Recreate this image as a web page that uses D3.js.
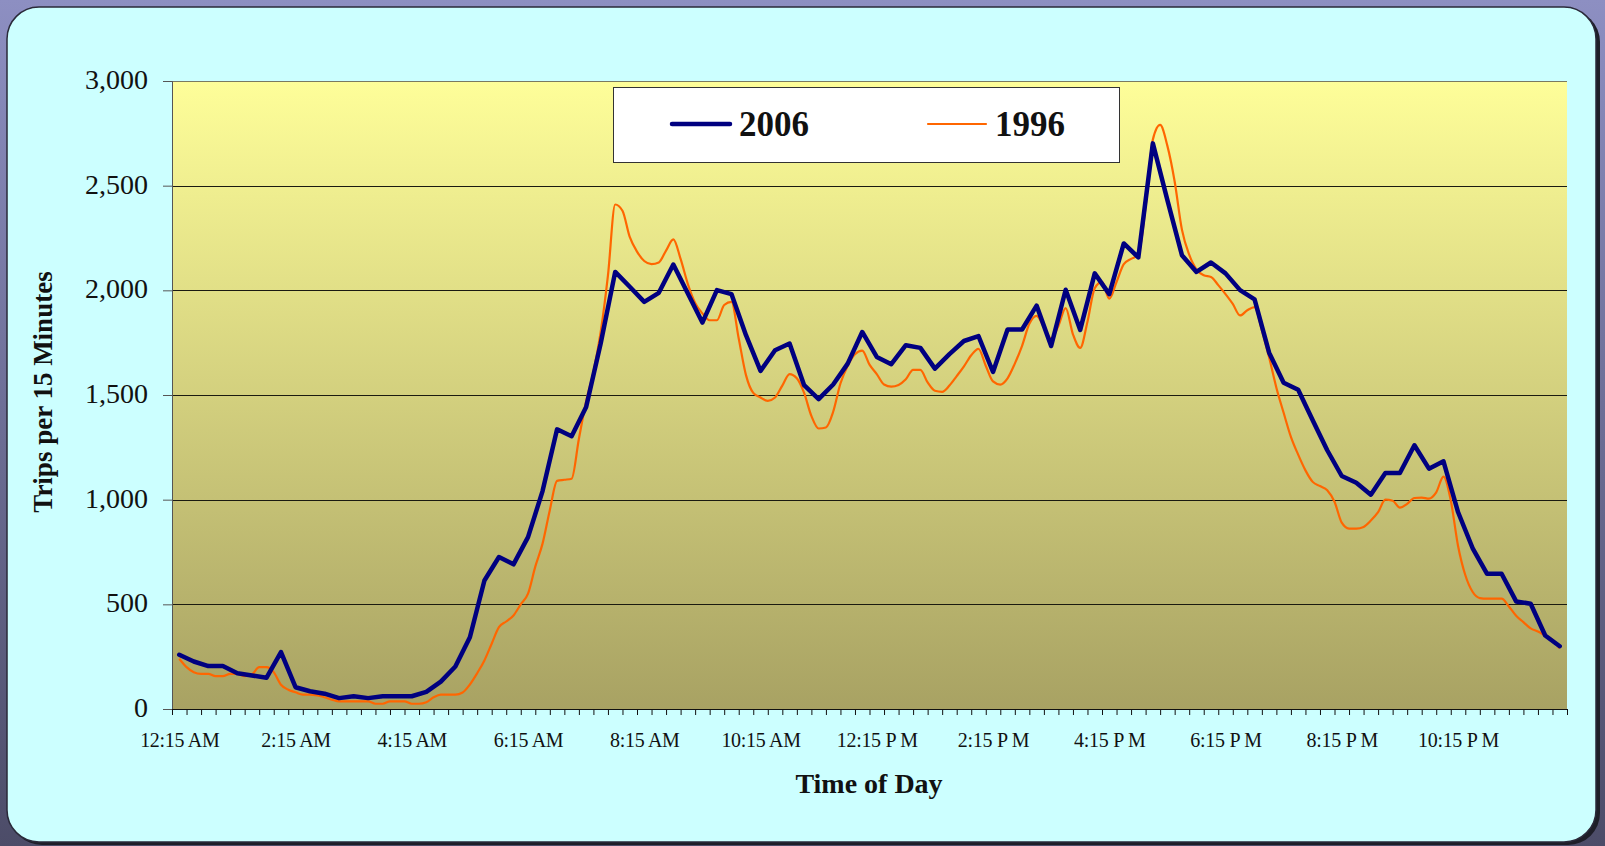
<!DOCTYPE html>
<html>
<head>
<meta charset="utf-8">
<script src="https://cdnjs.cloudflare.com/ajax/libs/d3/7.8.5/d3.min.js"></script>
<style>
    body { margin: 0; background: #8a8cbd; }
    svg { display: block; font-family: "Liberation Serif", "Times New Roman", serif; }
</style>
</head>
<body>
<svg id="chart" width="1605" height="846"></svg>
<script>
/*
    trips by time of day, 2006 vs 1996
 */

// quarter-hour categories, label every 8th one (every 2 hours)
const timeLabels = [
    "12:15 AM", "2:15 AM", "4:15 AM", "6:15 AM", "8:15 AM", "10:15 AM",
    "12:15 P M", "2:15 P M", "4:15 P M", "6:15 P M", "8:15 P M", "10:15 P M"
];

const yTicks = [0, 500, 1000, 1500, 2000, 2500, 3000];

// 2006: one value per 15 minutes (96 values)
const trips2006 = [
    259, 227, 205, 205, 171, 160, 149, 272, 104, 85,
    73, 52, 61, 52, 61, 61, 61, 82, 131, 203,
    343, 614, 726, 691, 821, 1041, 1336, 1303, 1443, 1746,
    2088, 2017, 1945, 1988, 2123, 1985, 1846, 2001, 1982, 1786,
    1615, 1714, 1746, 1547, 1480, 1550, 1650, 1801, 1682, 1647,
    1738, 1725, 1626, 1695, 1758, 1781, 1610, 1813, 1813, 1927,
    1734, 2003, 1811, 2081, 1982, 2224, 2157, 2702, 2431, 2168,
    2088, 2133, 2081, 2001, 1957, 1702, 1559, 1525, 1379, 1236,
    1113, 1081, 1024, 1127, 1127, 1260, 1148, 1183, 941, 769,
    646, 646, 514, 503, 351, 300
];

// 1996: finer series, two readings per quarter-hour category
const trips1996 = [
    240, 200, 176, 168, 168, 157, 157, 168, 168, 157,
    165, 200, 200, 176, 116, 92, 80, 69, 69, 65,
    56, 45, 36, 36, 36, 36, 36, 25, 25, 36,
    36, 36, 25, 25, 32, 56, 69, 69, 69, 79,
    117, 171, 232, 312, 391, 418, 447, 500, 551, 680,
    790, 950, 1090, 1095, 1100, 1290, 1470, 1610, 1800, 2070,
    2410, 2380, 2255, 2185, 2140, 2125, 2133, 2190, 2243, 2150,
    2030, 1940, 1890, 1857, 1857, 1930, 1945, 1770, 1595, 1510,
    1488, 1472, 1488, 1545, 1600, 1580, 1510, 1400, 1340, 1345,
    1420, 1555, 1640, 1695, 1712, 1645, 1600, 1550, 1540, 1548,
    1575, 1620, 1620, 1560, 1520, 1515, 1545, 1590, 1637, 1690,
    1720, 1640, 1565, 1550, 1580, 1650, 1735, 1840, 1878, 1825,
    1770, 1830, 1915, 1790, 1725, 1850, 2010, 2040, 1960, 2040,
    2125, 2150, 2170, 2400, 2720, 2790, 2690, 2520, 2290, 2170,
    2100, 2072, 2064, 2025, 1982, 1935, 1880, 1905, 1920, 1810,
    1680, 1535, 1415, 1300, 1215, 1140, 1085, 1065, 1045, 990,
    890, 862, 862, 870, 900, 940, 1000, 995, 962, 980,
    1008, 1010, 1005, 1035, 1110, 997, 780, 640, 560, 530,
    527, 527, 527, 490, 445, 415, 385, 370, 350, 330,
    290
];

const seriesNames = ["2006", "1996"];

class TripChart {
    constructor(selector) {
        this._svg = d3.select(selector);
        this._plot = { left: 172, right: 1567, top: 81, bottom: 709 };

        this._setupDefs();
        this._drawFrame();
        this._setupScales();
        this._drawPlotArea();
        this._drawAxes();
        this._drawLines();
        this._drawLegend();
        this._drawTitles();
    }

    _setupDefs() {
        const defs = this._svg.append("defs");

        const bg = defs.append("linearGradient").attr("id", "bg").attr("x1", 0).attr("y1", 0).attr("x2", 0).attr("y2", 1);
        bg.append("stop").attr("offset", "0%").attr("stop-color", "#8d8fc2");
        bg.append("stop").attr("offset", "100%").attr("stop-color", "#4c4c68");

        const plotBg = defs.append("linearGradient").attr("id", "plot-bg").attr("x1", 0).attr("y1", 0).attr("x2", 0).attr("y2", 1);
        plotBg.append("stop").attr("offset", "0%").attr("stop-color", "#fefe99");
        plotBg.append("stop").attr("offset", "100%").attr("stop-color", "#a8a263");
    }

    _drawFrame() {
        this._svg.append("rect").attr("width", 1605).attr("height", 846).attr("fill", "url(#bg)");
        this._svg.append("rect")
            .attr("x", 10).attr("y", 10).attr("width", 1590).attr("height", 835)
            .attr("rx", 32).attr("fill", "#1e1e28");
        this._svg.append("rect")
            .attr("x", 7).attr("y", 7).attr("width", 1589).attr("height", 835)
            .attr("rx", 32).attr("fill", "#ccffff")
            .attr("stroke", "#2a2a3a").attr("stroke-width", 1.5);
    }

    _setupScales() {
        const p = this._plot;
        this._x = d3.scaleLinear().domain([-0.5, 95.5]).range([p.left, p.right]);
        this._y = d3.scaleLinear().domain([0, 3000]).range([p.bottom, p.top]);
    }

    _drawPlotArea() {
        const p = this._plot;
        this._svg.append("rect")
            .attr("x", p.left).attr("y", p.top)
            .attr("width", p.right - p.left).attr("height", p.bottom - p.top)
            .attr("fill", "url(#plot-bg)");

        this._svg.append("g")
            .selectAll("line")
            .data(yTicks.filter(d => d > 0))
            .join("line")
            .attr("x1", p.left).attr("x2", p.right)
            .attr("y1", d => Math.round(this._y(d)) + 0.5)
            .attr("y2", d => Math.round(this._y(d)) + 0.5)
            .attr("stroke", d => (d === 3000 ? "#7a7a60" : "#1a1a10"))
            .attr("stroke-width", 1);
    }

    _drawAxes() {
        const p = this._plot;

        const yAxis = this._svg.append("g")
            .attr("transform", `translate(${p.left},0)`)
            .call(d3.axisLeft(this._y).tickValues(yTicks).tickFormat(d3.format(",")).tickSize(9).tickPadding(15));
        yAxis.select(".domain").attr("stroke", "#555");
        yAxis.selectAll(".tick line").attr("stroke", "#555");
        yAxis.selectAll("text")
            .attr("font-size", 28).attr("fill", "#111").attr("dy", "0.27em")
            .style("font-family", "'Liberation Serif', 'Times New Roman', serif");

        // tick marks on every category boundary
        const xTicks = this._svg.append("g")
            .attr("transform", `translate(0,${p.bottom})`)
            .call(d3.axisBottom(this._x).tickValues(d3.range(-0.5, 96, 1)).tickFormat("").tickSize(6).tickSizeOuter(0));
        xTicks.select(".domain").attr("stroke", "#111");
        xTicks.selectAll(".tick line").attr("stroke", "#111");

        // labels centred on every 8th category
        const xLabels = this._svg.append("g")
            .attr("transform", `translate(0,${p.bottom})`)
            .call(d3.axisBottom(this._x).tickValues(d3.range(0, 96, 8)).tickFormat((d, i) => timeLabels[i]).tickSize(0).tickPadding(24));
        xLabels.select(".domain").remove();
        xLabels.selectAll("text")
            .attr("font-size", 20).attr("fill", "#111").attr("letter-spacing", "-0.3px")
            .style("font-family", "'Liberation Serif', 'Times New Roman', serif");
    }

    _drawLines() {
        const line1996 = d3.line()
            .x((d, k) => this._x(k / 2))
            .y(d => this._y(d))
            .curve(d3.curveMonotoneX);

        const line2006 = d3.line()
            .x((d, i) => this._x(i))
            .y(d => this._y(d));

        this._svg.append("path")
            .datum(trips1996)
            .attr("d", line1996)
            .attr("fill", "none")
            .attr("stroke", "#ff6600")
            .attr("stroke-width", 2.2)
            .attr("stroke-linejoin", "round");

        this._svg.append("path")
            .datum(trips2006)
            .attr("d", line2006)
            .attr("fill", "none")
            .attr("stroke", "#000080")
            .attr("stroke-width", 4.5)
            .attr("stroke-linejoin", "round")
            .attr("stroke-linecap", "round");
    }

    _drawLegend() {
        const legend = this._svg.append("g");
        legend.append("rect")
            .attr("x", 613.5).attr("y", 87.5).attr("width", 506).attr("height", 75)
            .attr("fill", "#fff").attr("stroke", "#333").attr("stroke-width", 1);

        const items = [
            { name: seriesNames[0], color: "#000080", width: 4.5, x: 672 },
            { name: seriesNames[1], color: "#ff6600", width: 2.2, x: 928 }
        ];
        items.forEach(item => {
            legend.append("line")
                .attr("x1", item.x).attr("x2", item.x + 58)
                .attr("y1", 124).attr("y2", 124)
                .attr("stroke", item.color).attr("stroke-width", item.width)
                .attr("stroke-linecap", "round");
            legend.append("text")
                .attr("x", item.x + 67).attr("y", 136)
                .attr("font-size", 35).attr("font-weight", "bold").attr("fill", "#111")
                .text(item.name);
        });
    }

    _drawTitles() {
        this._svg.append("text")
            .attr("x", 869).attr("y", 793)
            .attr("text-anchor", "middle")
            .attr("font-size", 28).attr("font-weight", "bold").attr("fill", "#111")
            .text("Time of Day");

        this._svg.append("text")
            .attr("transform", "translate(52,392) rotate(-90)")
            .attr("text-anchor", "middle")
            .attr("font-size", 27).attr("font-weight", "bold").attr("fill", "#111")
            .text("Trips per 15 Minutes");
    }
}

new TripChart("#chart");
</script>
</body>
</html>
